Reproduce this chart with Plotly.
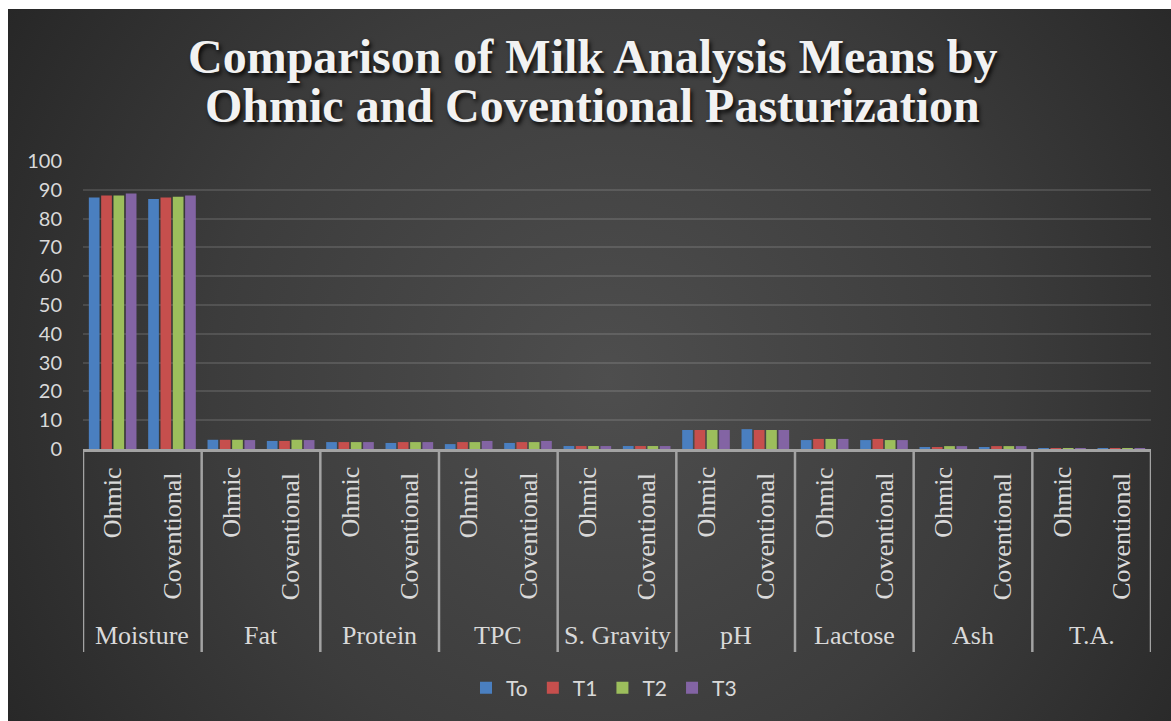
import base64
import plotly.graph_objects as go

# ---- data -------------------------------------------------------------
groups = ["Moisture", "Fat", "Protein", "TPC", "S. Gravity", "pH", "Lactose", "Ash", "T.A."]
methods = ["Ohmic", "Coventional"]

# values listed group by group: Ohmic, Coventional
to_vals = [87.3, 86.8, 3.2, 2.8, 2.4, 2.1, 1.7, 2.1, 1.03, 1.03, 6.6, 6.9, 3.1, 3.1, 0.7, 0.7, 0.18, 0.18]
t1_vals = [88.0, 87.3, 3.2, 2.8, 2.4, 2.4, 2.4, 2.4, 1.03, 1.03, 6.6, 6.6, 3.5, 3.5, 0.7, 1.0, 0.17, 0.17]
t2_vals = [88.0, 87.6, 3.2, 3.2, 2.4, 2.4, 2.4, 2.4, 1.03, 1.03, 6.6, 6.6, 3.5, 3.1, 1.0, 1.0, 0.16, 0.16]
t3_vals = [88.7, 88.0, 3.1, 3.1, 2.4, 2.4, 2.8, 2.8, 1.03, 1.03, 6.6, 6.6, 3.5, 3.1, 1.0, 1.0, 0.16, 0.16]

series_names = ["To", "T1", "T2", "T3"]
series_colors = ["#4a7fc0", "#c64f4d", "#9cbe5c", "#8364a4"]

title_lines = ["Comparison of Milk Analysis Means by", "Ohmic and Coventional Pasturization"]

# ---- geometry (pixels) ------------------------------------------------
W, H = 1171, 721
ML, MR, MT, MB = 83, 20, 161, 272
PW, PH = W - ML - MR, H - MT - MB


def px_x(px):
    return (px - ML) / PW


def px_y(py):
    return (H - MB - py) / PH


x_outer = [g for g in groups for _ in methods]
x_inner = [m for _ in groups for m in methods]

fig = go.Figure()
for name, color, vals in zip(series_names, series_colors, [to_vals, t1_vals, t2_vals, t3_vals]):
    fig.add_trace(go.Bar(
        name=name,
        x=[x_outer, x_inner],
        y=vals,
        marker=dict(color=color, line=dict(width=0)),
    ))

# dark radial-gradient backdrop for the chart area
svg = (
    '<svg xmlns="http://www.w3.org/2000/svg" width="1163" height="712" viewBox="0 0 1163 712" '
    'preserveAspectRatio="none">'
    '<defs><radialGradient id="g" gradientUnits="userSpaceOnUse" cx="600" cy="370" r="720">'
    '<stop offset="0" stop-color="#4e4e4e"/><stop offset="0.55" stop-color="#3c3c3c"/>'
    '<stop offset="1" stop-color="#262626"/></radialGradient></defs>'
    '<rect width="1163" height="712" fill="url(#g)"/></svg>'
)
bg_src = "data:image/svg+xml;base64," + base64.b64encode(svg.encode()).decode()

label_color = "#d9d9d9"
axis_color = "#a3a3a3"

shapes = []
annotations = []
n_cat = len(groups) * len(methods)

# group dividers below the axis
for k in range(len(groups) + 1):
    xd = 2 * k - 0.5
    shapes.append(dict(type="line", xref="x", yref="paper", x0=xd, x1=xd,
                       y0=0, y1=px_y(652), line=dict(color=axis_color, width=2.5)))

# method labels (rotated) and group labels
for gi, g in enumerate(groups):
    for mi, m in enumerate(methods):
        idx = 2 * gi + mi
        annotations.append(dict(
            text=m, x=idx, xref="x", y=px_y(465 if mi == 0 else 471), yref="paper",
            textangle=-90, xanchor="center", yanchor="top", showarrow=False,
            font=dict(family="Liberation Serif", size=26, color=label_color),
        ))
    annotations.append(dict(
        text=g, x=2 * gi + 0.5, xref="x", y=px_y(635), yref="paper",
        xanchor="center", yanchor="middle", showarrow=False,
        font=dict(family="Liberation Serif", size=26, color=label_color),
    ))

# two-line title
for line, yc in zip(title_lines, [56, 106]):
    annotations.append(dict(
        text="<b>%s</b>" % line, x=px_x(592), xref="paper", y=px_y(yc), yref="paper",
        xanchor="center", yanchor="middle", showarrow=False,
        font=dict(family="Liberation Serif", size=48, color="#f2f2f2",
                  shadow="2px 3px 4px rgba(0,0,0,0.85)"),
    ))

fig.update_layout(
    width=W, height=H,
    margin=dict(l=ML, r=MR, t=MT, b=MB, autoexpand=False),
    paper_bgcolor="white",
    plot_bgcolor="rgba(0,0,0,0)",
    barmode="group",
    bargap=0.17,
    bargroupgap=0.13,
    images=[dict(source=bg_src, xref="paper", yref="paper",
                 x=px_x(8), y=px_y(9), sizex=(W - 8) / PW, sizey=(H - 9) / PH,
                 xanchor="left", yanchor="top", sizing="stretch", layer="below")],
    shapes=shapes,
    annotations=annotations,
    showlegend=True,
    legend=dict(orientation="h", x=px_x(604), xanchor="center", y=px_y(688), yanchor="middle",
                bgcolor="rgba(0,0,0,0)", font=dict(family="Lato", size=21, color=label_color),
                itemwidth=30, traceorder="normal"),
    xaxis=dict(type="multicategory", showticklabels=False, showdividers=False,
               showgrid=False, zeroline=False, showline=True, linecolor=axis_color,
               linewidth=2.5, ticks="", range=[-0.5, n_cat - 0.5]),
    yaxis=dict(range=[0, 100], dtick=10, showgrid=True, gridcolor="rgba(255,255,255,0.12)",
               gridwidth=1.5, zeroline=False, showline=False, ticks="",
               tickfont=dict(family="Lato", size=20, color=label_color),
               ticklabelstandoff=20),
)

fig.write_html("out.html")
